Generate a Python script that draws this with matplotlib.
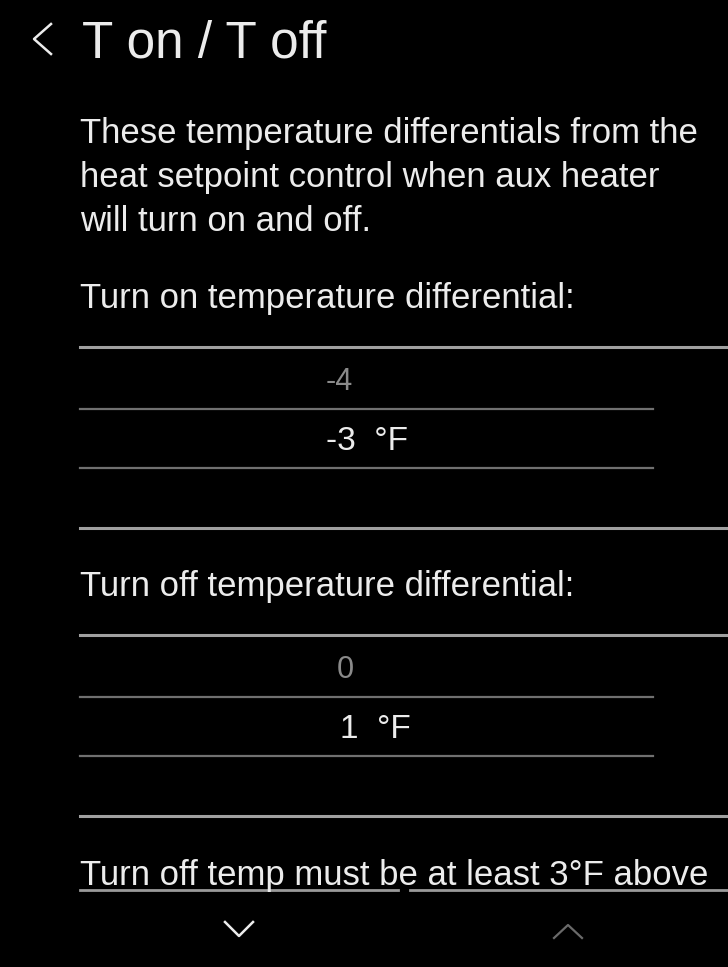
import matplotlib
matplotlib.use('Agg')
import matplotlib.pyplot as plt

# screen content
title = "T on / T off"
intro_lines = ["These temperature differentials from the",
               "heat setpoint control when aux heater",
               "will turn on and off."]
on_label = "Turn on temperature differential:"
on_values = ["-4", "-3"]
off_label = "Turn off temperature differential:"
off_values = ["0", "1"]
unit = "°F"
note = "Turn off temp must be at least 3°F above"

plt.rcParams['font.family'] = ['Liberation Sans', 'DejaVu Sans']

fig = plt.figure(figsize=(7.28, 9.67), dpi=100, facecolor='black')
ax = fig.add_axes([0, 0, 1, 1])
ax.set_facecolor('black')
ax.set_xlim(0, 728)
ax.set_ylim(967, 0)
ax.axis('off')

white = '#ececec'
body = 25

# header
ax.plot([51, 34, 51], [24, 39, 54], color=white, lw=1.8)
ax.text(82, 57, title, color=white, fontsize=37, va='baseline', ha='left')

# intro paragraph
for i, line in enumerate(intro_lines):
    ax.text(80, 143 + i * 44, line, color=white, fontsize=body, va='baseline')


def picker(y0, label, values, x_prev, x_sel):
    ax.text(80, y0 - 39, label, color=white, fontsize=body, va='baseline')
    ax.plot([80, 728], [y0, y0], color='#a0a0a0', lw=2.2)
    ax.plot([80, 653], [y0 + 62, y0 + 62], color='#707070', lw=1.6)
    ax.plot([80, 653], [y0 + 121, y0 + 121], color='#707070', lw=1.6)
    ax.plot([80, 728], [y0 + 181, y0 + 181], color='#a0a0a0', lw=2.2)
    ax.text(x_prev, y0 + 43, values[0], color='#8a8a8a', fontsize=22,
            va='baseline', ha='left')
    ax.text(x_sel, y0 + 103, values[1] + "  " + unit, color=white, fontsize=24,
            va='baseline', ha='left')


picker(347, on_label, on_values, 326, 326)
picker(635, off_label, off_values, 337, 340)

# note with underline
ax.text(80, 885, note, color=white, fontsize=body, va='baseline')
ax.plot([80, 398], [890, 890], color='#9a9a9a', lw=2)
ax.plot([410, 728], [890, 890], color='#9a9a9a', lw=2)

# scroll chevrons
ax.plot([225, 239, 253], [922, 936, 922], color=white, lw=1.8)
ax.plot([554, 568, 582], [938, 925, 938], color='#6a6a6a', lw=1.6)

fig.savefig('out.png', dpi=100, facecolor='black')
